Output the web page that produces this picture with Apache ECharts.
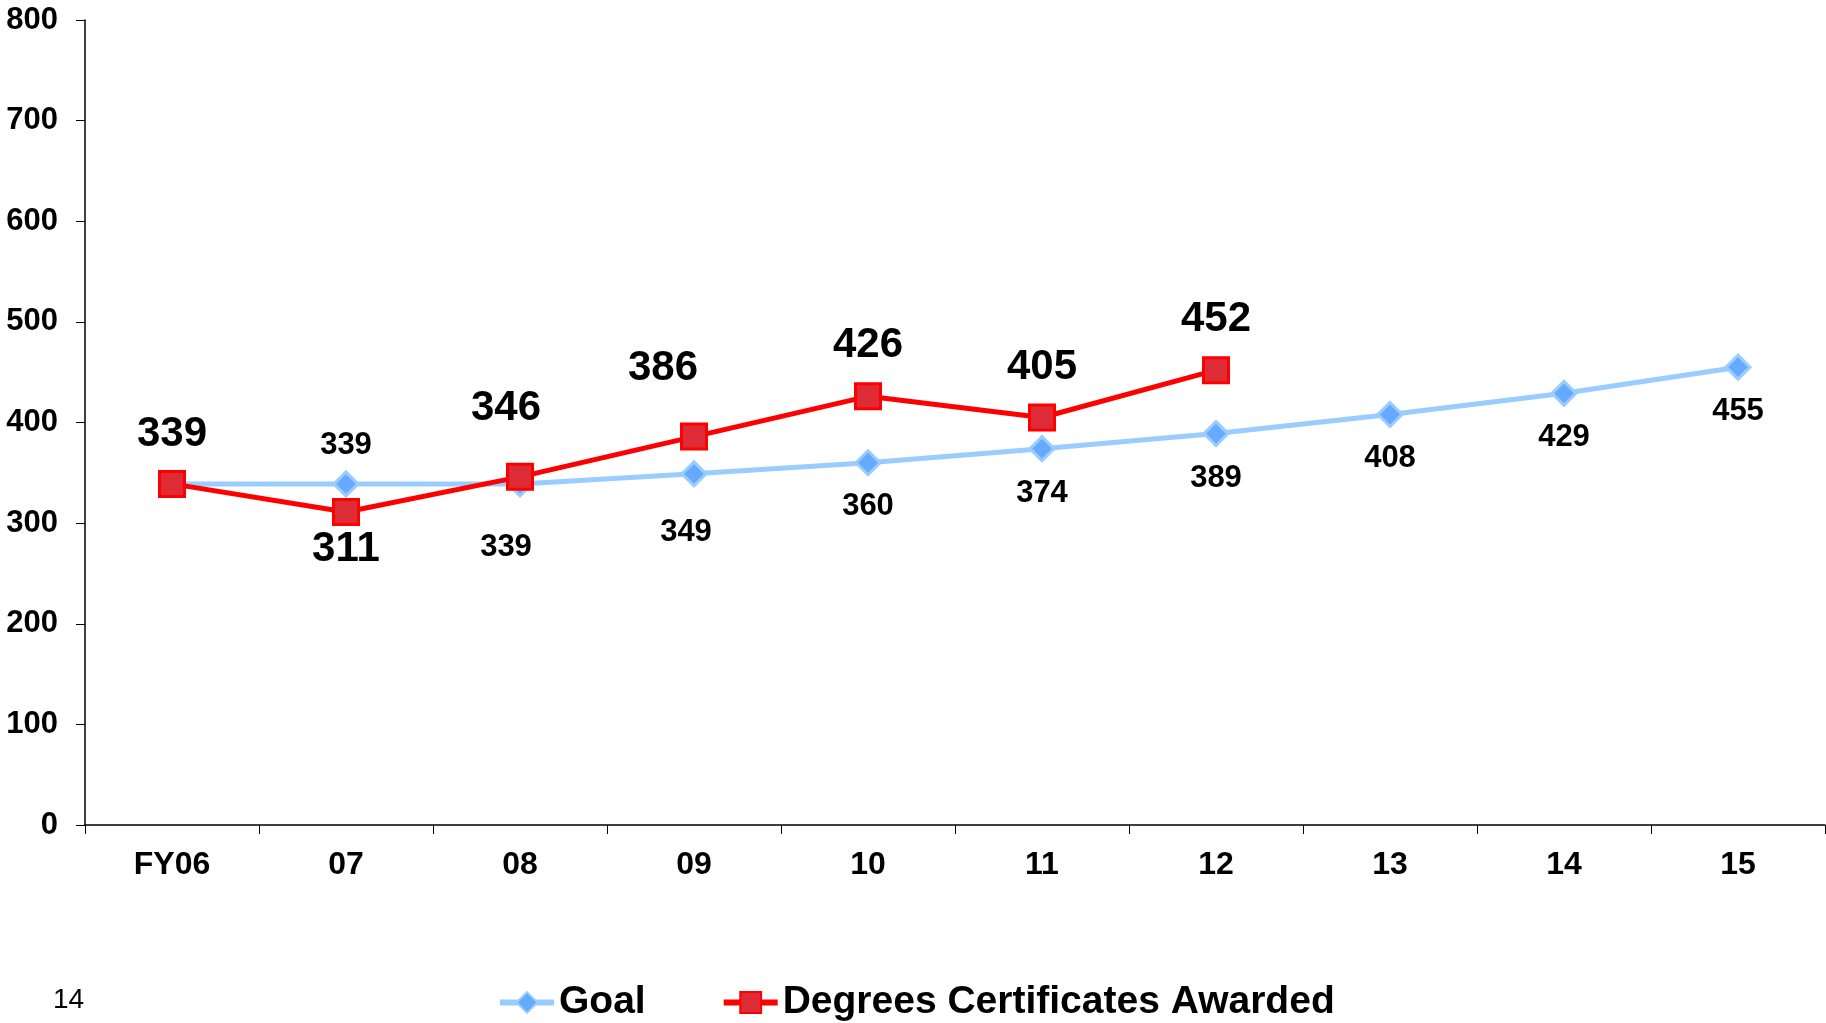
<!DOCTYPE html>
<html lang="en">
<head>
	<meta charset="UTF-8">
	<title>Degrees Certificates Awarded</title>
	<script type="text/javascript" src="https://cdn.jsdelivr.net/npm/echarts@6/dist/echarts.min.js"></script>
	<style>
		html, body { margin: 0; padding: 0; background: #fff; }
		#main { width: 1826px; height: 1023px; }
	</style>
</head>
<body>
    <div id="main"></div>
    <script type="text/javascript">
        var years = ['FY06', '07', '08', '09', '10', '11', '12', '13', '14', '15'];
        var goal = [339, 339, 339, 349, 360, 374, 389, 408, 429, 455];
        var awarded = [339, 311, 346, 386, 426, 405, 452];
        var yTicks = [0, 100, 200, 300, 400, 500, 600, 700, 800];

        // label offsets (px) so the numbers sit like in the original slide
        var goalLabelOffset = [null, [0, -38], [-14, 64], [-8, 59], [0, 44], [0, 45], [0, 45], [0, 44], [0, 44], [0, 44]];
        var awardedLabelOffset = [[0, -49], [0, 37], [-14, -68], [-31, -68], [0, -51], [0, -50], [0, -51]];

        var font = '"Liberation Sans", Arial, sans-serif';

        function withLabels(values, offsets, size) {
            return values.map(function (v, i) {
                var off = offsets[i];
                return {
                    value: v,
                    label: off ? { show: true, position: 'inside', offset: off, fontSize: size } : { show: false }
                };
            });
        }

        var myChart = echarts.init(document.getElementById('main'));
        var option = {
            animation: false,
            backgroundColor: '#ffffff',
            textStyle: { fontFamily: font },
            grid: { left: 85, right: 1, top: 20, bottom: 198 },
            legend: {
                bottom: -4,
                left: 492,
                itemWidth: 54,
                itemHeight: 26,
                itemGap: 75,
                lineStyle: { width: 6 },
                textStyle: { fontSize: 39, fontWeight: 'bold', color: '#000', fontFamily: font },
                data: ['Goal', 'Degrees Certificates Awarded']
            },
            xAxis: {
                type: 'category',
                data: years,
                boundaryGap: true,
                axisLine: { lineStyle: { color: '#000', width: 1.5 } },
                axisTick: { show: true, length: 9, alignWithLabel: false, lineStyle: { color: '#000' } },
                axisLabel: { color: '#000', fontSize: 32, fontWeight: 'bold', margin: 24 },
                splitLine: { show: false }
            },
            yAxis: {
                type: 'value',
                min: yTicks[0],
                max: yTicks[yTicks.length - 1],
                interval: 100,
                axisLine: { show: true, lineStyle: { color: '#000', width: 1.5 } },
                axisTick: { show: true, length: 9, lineStyle: { color: '#000' } },
                axisLabel: { color: '#000', fontSize: 31, fontWeight: 'bold', margin: 27 },
                splitLine: { show: false }
            },
            graphic: [{
                type: 'text',
                left: 53,
                top: 986,
                style: { text: '14', fontSize: 28, fill: '#000', fontFamily: font }
            }],
            series: [
                {
                    name: 'Goal',
                    type: 'line',
                    data: withLabels(goal, goalLabelOffset, 31),
                    symbol: 'diamond',
                    symbolSize: 24,
                    lineStyle: { color: '#99CCFF', width: 5 },
                    itemStyle: { color: '#66AAFF', borderColor: '#99CCFF', borderWidth: 3 },
                    label: { color: '#000', fontWeight: 'bold', fontFamily: font },
                    z: 2
                },
                {
                    name: 'Degrees Certificates Awarded',
                    type: 'line',
                    data: withLabels(awarded, awardedLabelOffset, 42),
                    symbol: 'rect',
                    symbolSize: 25,
                    lineStyle: { color: '#FF0000', width: 5 },
                    itemStyle: { color: '#DD2C35', borderColor: '#FF0000', borderWidth: 3 },
                    label: { color: '#000', fontWeight: 'bold', fontFamily: font },
                    z: 3
                }
            ]
        };
        myChart.setOption(option);
    </script>
</body>
</html>
